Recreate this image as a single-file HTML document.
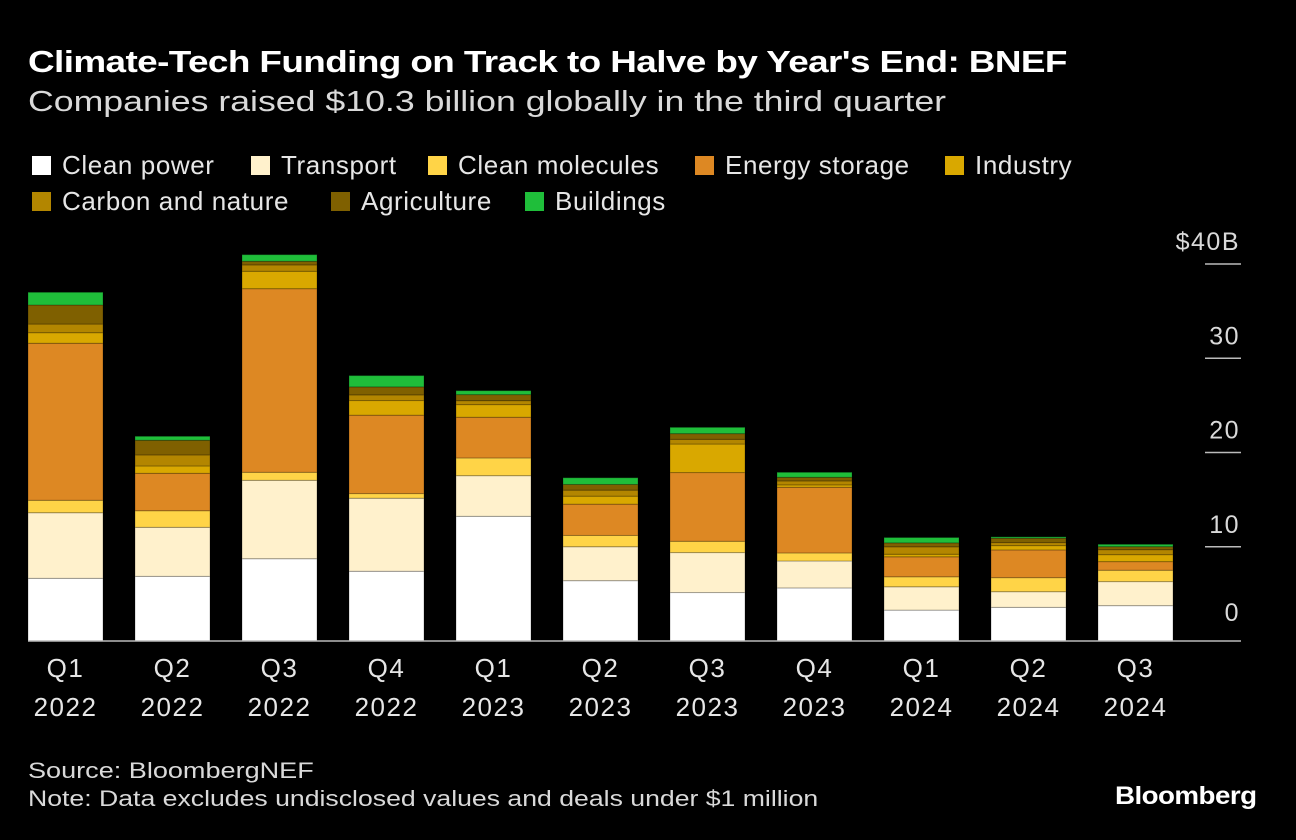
<!DOCTYPE html>
<html><head><meta charset="utf-8"><style>
body{margin:0;background:#000;width:1296px;height:840px;overflow:hidden;font-family:"Liberation Sans",sans-serif;color:#fff;position:relative}
.t{position:absolute;white-space:nowrap;transform-origin:0 0}
.lg{position:absolute;font-size:26px;color:#e6e6e6;display:flex;align-items:center;letter-spacing:0.6px;white-space:nowrap}
.lg i{display:inline-block;width:19px;height:19px;margin-right:11px}
</style></head><body>
<div class="t" style="left:28px;top:44px;font-size:31px;font-weight:bold;letter-spacing:-0.5px;transform:scaleX(1.19)">Climate-Tech Funding on Track to Halve by Year's End: BNEF</div>
<div class="t" style="left:28px;top:86px;font-size:29px;color:#d9d9d9;transform:scaleX(1.23)">Companies raised $10.3 billion globally in the third quarter</div>
<div id="legend"></div>
<svg id="chart" width="1296" height="840" style="position:absolute;left:0;top:0"></svg>
<div class="t" style="left:28px;top:758px;font-size:22px;color:#d9d9d9;transform:scaleX(1.23)">Source: BloombergNEF</div>
<div class="t" style="left:28px;top:786px;font-size:22px;color:#d9d9d9;transform:scaleX(1.21)">Note: Data excludes undisclosed values and deals under $1 million</div>
<div class="t" style="left:1115px;top:782px;font-size:25px;font-weight:bold;letter-spacing:-0.5px;transform:scaleX(1.11)">Bloomberg</div>
<script>
const quarters=["Q1","Q2","Q3","Q4","Q1","Q2","Q3","Q4","Q1","Q2","Q3"];
const years=["2022","2022","2022","2022","2023","2023","2023","2023","2024","2024","2024"];
const seriesNames=["Clean power","Transport","Clean molecules","Energy storage","Industry","Carbon and nature","Agriculture","Buildings"];
const seriesColors=["#ffffff","#fff1cc","#ffd447","#dd8823","#d9a800","#b38600","#7f6000","#1fbe3a"];
const cleanPower=[6.65,6.86,8.73,7.4,13.23,6.4,5.14,5.63,3.28,3.57,3.75];
const transport=[6.96,5.2,8.32,7.75,4.31,3.6,4.24,2.86,2.47,1.66,2.55];
const cleanMolecules=[1.32,1.76,0.85,0.49,1.88,1.2,1.2,0.85,1.06,1.49,1.21];
const energyStorage=[16.66,3.97,19.48,8.32,4.32,3.32,7.29,6.97,2.12,2.94,0.91];
const industry=[1.12,0.78,1.85,1.55,1.34,0.85,3.03,0.25,0.28,0.46,0.74];
const carbonNature=[0.92,1.17,0.67,0.6,0.42,0.64,0.5,0.42,0.78,0.32,0.53];
const agriculture=[2.02,1.56,0.39,0.85,0.64,0.6,0.6,0.39,0.42,0.47,0.32];
const buildings=[1.35,0.42,0.7,1.2,0.42,0.71,0.67,0.53,0.57,0.14,0.25];
const yTicks=[0,10,20,30,40];
const yTickLabels=["0","10","20","30","$40B"];
const series=[cleanPower,transport,cleanMolecules,energyStorage,industry,carbonNature,agriculture,buildings];
const y=v=>641-v*9.425;
const x=i=>28+i*107;
const bw=75;
const NS="http://www.w3.org/2000/svg";
const svg=document.getElementById('chart');
function mk(tag,attrs){const e=document.createElementNS(NS,tag);for(const k in attrs)e.setAttribute(k,attrs[k]);svg.appendChild(e);return e;}
const lg=document.getElementById('legend');
const legPos=[[32,150],[251,150],[428,150],[695,150],[945,150],[32,186],[331,186],[525,186]];
seriesNames.forEach((n,k)=>{const d=document.createElement('div');d.className='lg';


d.style.left=legPos[k][0]+'px';d.style.top=legPos[k][1]+'px';
d.innerHTML='<i style="background:'+seriesColors[k]+'"></i>'+n;lg.appendChild(d);});
yTicks.forEach((t,k)=>{
 if(t>0){const l=mk('line',{x1:1205,x2:1241,y1:y(t),y2:y(t),stroke:'#bbb','stroke-width':1.5});
 
 }
 const tx=mk('text',{x:1240,y:y(t)-(t>0?14:20),'text-anchor':'end',fill:'#d9d9d9','font-size':25,'letter-spacing':1.5,'font-family':'Liberation Sans, sans-serif'});
 
 
 tx.textContent=yTickLabels[k];
});
quarters.forEach((q,i)=>{
 let acc=0;
 series.forEach((s,k)=>{const v=s[i];
  const r=mk('rect',{x:x(i),y:y(acc+v),width:bw,height:v*9.425,fill:seriesColors[k],stroke:'rgba(0,0,0,0.25)','stroke-width':1});
  
  
  acc+=v;});
 const t1=mk('text',{x:x(i)+bw/2,y:677,'text-anchor':'middle',fill:'#e6e6e6','font-size':26,'letter-spacing':1.5,'font-family':'Liberation Sans, sans-serif'});
 
 
 t1.textContent=q;
 const t2=mk('text',{x:x(i)+bw/2,y:716,'text-anchor':'middle',fill:'#e6e6e6','font-size':26,'letter-spacing':1.5,'font-family':'Liberation Sans, sans-serif'});
 
 
 t2.textContent=years[i];
});
const bl=mk('line',{x1:28,x2:1241,y1:641,y2:641,stroke:'#bbb','stroke-width':1.5});


</script>
</body></html>
